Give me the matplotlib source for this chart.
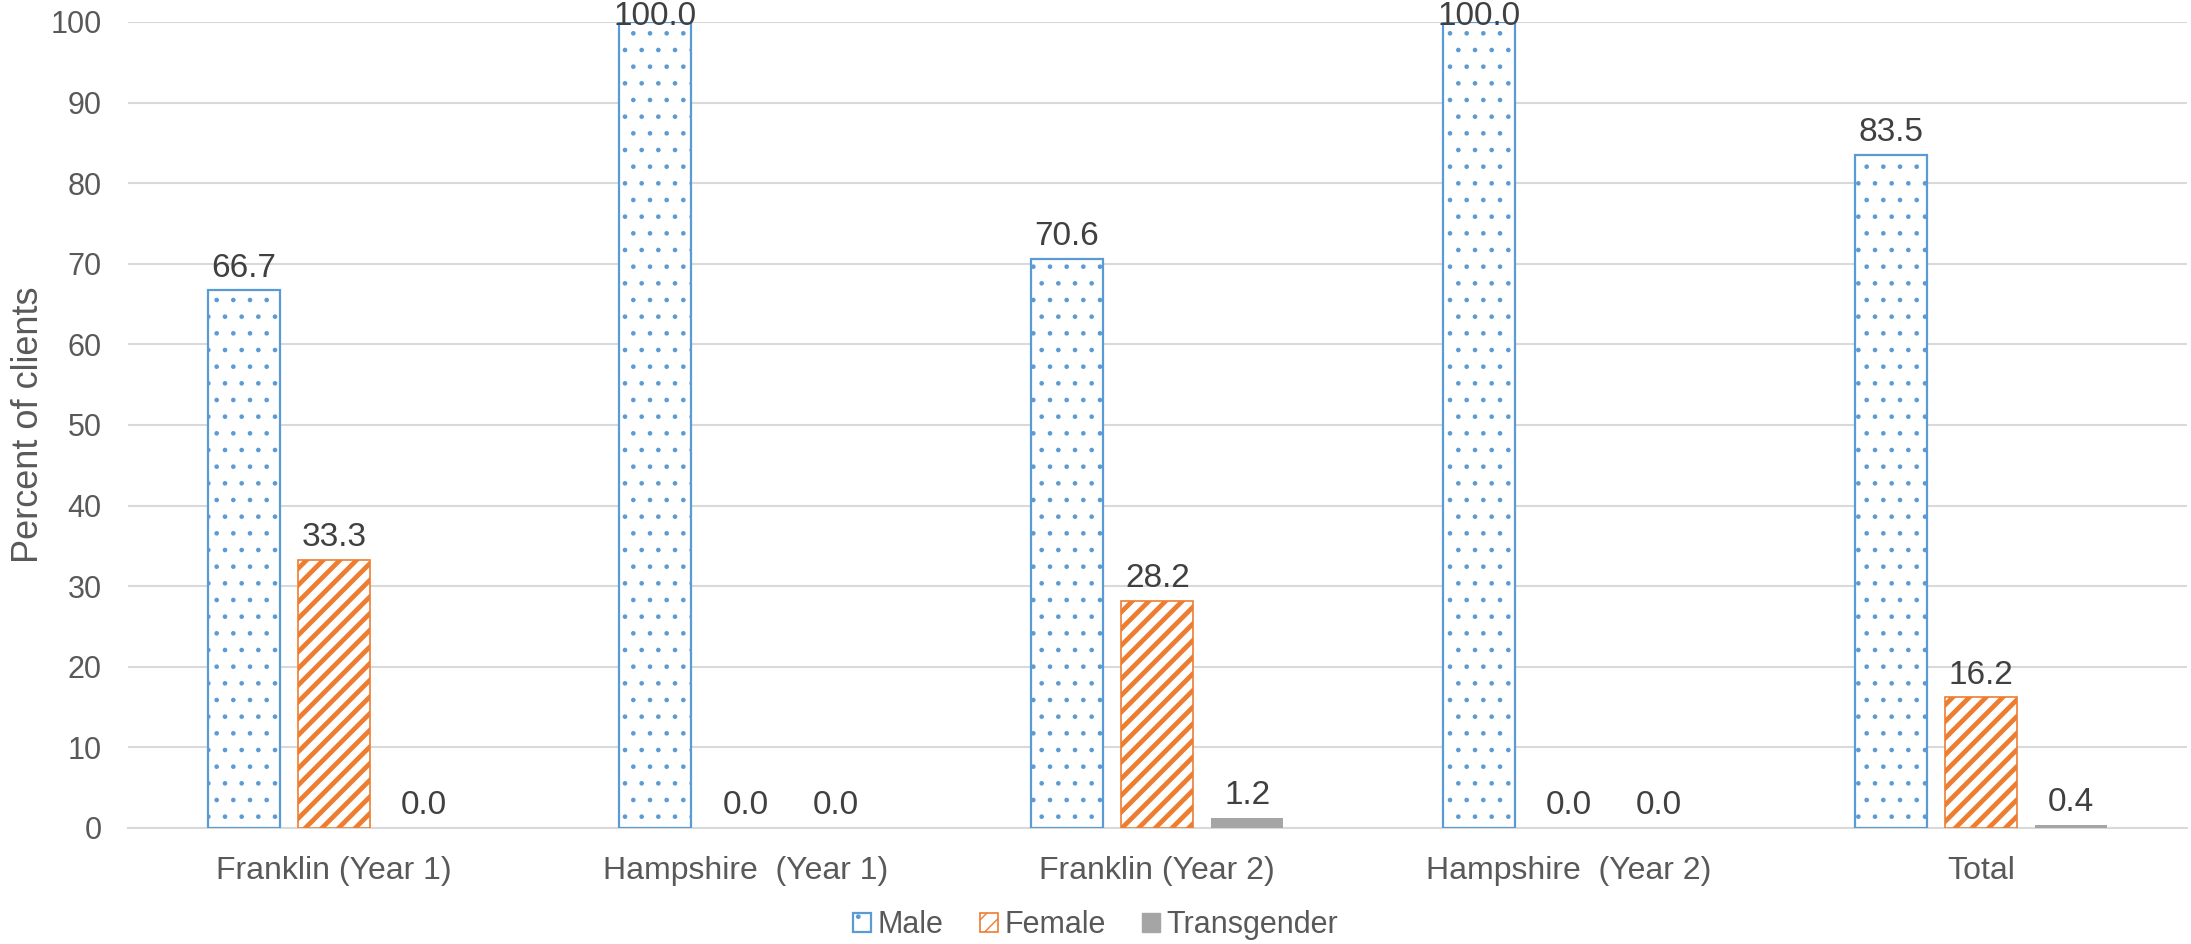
import numpy as np
import matplotlib
matplotlib.use("Agg")
import matplotlib.pyplot as plt
from matplotlib.patches import Patch

plt.rcParams['font.family'] = ['Liberation Sans', 'DejaVu Sans']

categories = ["Franklin (Year 1)", "Hampshire  (Year 1)", "Franklin (Year 2)",
              "Hampshire  (Year 2)", "Total"]
male = [66.7, 100.0, 70.6, 100.0, 83.5]
female = [33.3, 0.0, 28.2, 0.0, 16.2]
transgender = [0.0, 0.0, 1.2, 0.0, 0.4]
series_names = ["Male", "Female", "Transgender"]

blue = "#5B9BD5"
orange = "#ED7D31"
gray = "#A5A5A5"
text_gray = "#595959"
label_dark = "#404040"
grid_gray = "#D9D9D9"


def hatch_width(patches, lw):
    for p in patches:
        if hasattr(p, "set_hatch_linewidth"):
            p.set_hatch_linewidth(lw)


def edge_widths(vals, lw):
    # zero-height bars get no outline
    return [lw if v > 0 else 0 for v in vals]


fig = plt.figure(figsize=(21.91, 9.44), dpi=100)
ax = fig.add_axes([0.0584, 0.1229, 0.9396, 0.8538])

x = np.arange(len(categories))
w = 0.175
step = 0.219

b1 = ax.bar(x - step, male, w, facecolor="white", edgecolor=blue,
            linewidth=edge_widths(male, 1.6), hatch=".", zorder=3)
hatch_width(b1, 0.9)
b2 = ax.bar(x, female, w, facecolor="white", edgecolor=orange,
            linewidth=edge_widths(female, 1.2), hatch="//", zorder=3)
hatch_width(b2, 3.4)
b3 = ax.bar(x + step, transgender, w, color=gray, zorder=3)

ax.set_xlim(-0.5, len(categories) - 0.5)
ax.set_ylim(0, 100)

labels = []
for bars, vals in ((b1, male), (b2, female), (b3, transgender)):
    for rect, v in zip(bars, vals):
        t = ax.annotate(f"{v:.1f}", (rect.get_x() + rect.get_width() / 2, v),
                        xytext=(0, 10), textcoords="offset points",
                        ha="center", va="baseline", fontsize=24,
                        color=label_dark, annotation_clip=False)
        labels.append(t)

ax.set_yticks(np.arange(0, 101, 10))
ax.set_xticks(x)
ax.set_xticklabels(categories, fontsize=23)
ax.tick_params(axis="both", length=0, colors=text_gray)
ax.tick_params(axis="y", labelsize=22, pad=19)
ax.tick_params(axis="x", pad=20)
ax.yaxis.grid(True, color=grid_gray, linewidth=1.5, zorder=0)
ax.set_axisbelow(True)
for s in ("top", "right", "left"):
    ax.spines[s].set_visible(False)
ax.spines["bottom"].set_color(grid_gray)
ax.spines["bottom"].set_linewidth(1.5)

ax.set_ylabel("Percent of clients", fontsize=26, color=text_gray)
ax.yaxis.set_label_coords(-0.040, 0.5)

# Labels that would run past the top of the figure sit just on the bar top
fig.canvas.draw()
renderer = fig.canvas.get_renderer()
fig_h = fig.bbox.height
for t in labels:
    if t.get_window_extent(renderer).y1 > fig_h:
        t.set_position((0, -2))

h1 = Patch(facecolor="white", edgecolor=blue, linewidth=1.6, hatch=".")
hatch_width([h1], 0.9)
h2 = Patch(facecolor="white", edgecolor=orange, linewidth=1.2, hatch="//")
hatch_width([h2], 3.4)
h3 = Patch(facecolor=gray, edgecolor=gray)
leg = fig.legend([h1, h2, h3], series_names, loc="center",
                 bbox_to_anchor=(0.5, 0.02), ncol=3, frameon=False,
                 fontsize=22, handlelength=0.6, handleheight=0.6,
                 handletextpad=0.2, columnspacing=1.2)
for t in leg.get_texts():
    t.set_color(text_gray)

fig.savefig("out.png", dpi=100)
